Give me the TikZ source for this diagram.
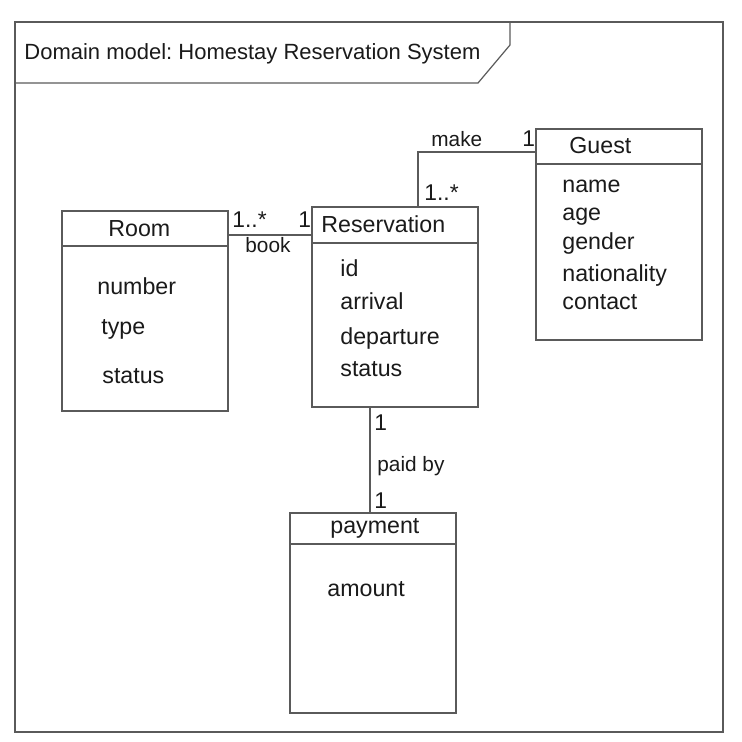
\documentclass[tikz,border=0pt]{standalone}
\usepackage{fontspec}
\setmainfont{Liberation Sans}
\frenchspacing
\definecolor{umlgray}{HTML}{5A5A5A}
\definecolor{umltext}{HTML}{1A1A1A}

\begin{document}
\begin{tikzpicture}[
    x=0.5pt, y=-0.5pt,
    umlline/.style={draw=umlgray, line width=0.6pt},
    classbox/.style={umlline, minimum width=83pt, inner sep=0pt},
    headbox/.style={umlline, minimum width=83pt, inner sep=0pt, anchor=north},
    titlelbl/.style={font=\fontsize{11}{13}\selectfont, text=umltext, anchor=base west, inner sep=0pt},
    attrlbl/.style={font=\fontsize{11.6}{14}\selectfont, text=umltext, anchor=base west, inner sep=0pt},
    multlbl/.style={font=\fontsize{11.4}{14}\selectfont, text=umltext, anchor=base west, inner sep=0pt},
    assoclbl/.style={font=\fontsize{10.4}{12}\selectfont, text=umltext, anchor=base west, inner sep=0pt}
  ]
  \useasboundingbox (0,0) rectangle (742,742);
  % frame with its name tab
  \draw[umlline] (15,22) rectangle (723,732);
  \draw[umlline] (15,83) -- (478,83) -- (510,45) -- (510,22);
  \node[titlelbl] (title) at (24,60) {Domain model: Homestay Reservation System};

  % classes
  \foreach \cls/\cx/\cy/\h/\hh in {%
    room/145/311/100/17.5,
    res/395/307/100/18,
    guest/619/234.5/105.5/17.5,
    pay/373/613/100/15.5%
  }{
    \node[classbox, minimum height=\h pt] (\cls) at (\cx,\cy) {};
    \node[headbox, minimum height=\hh pt] (\cls-head) at (\cls.north) {};
  }
  \foreach \cls/\nm/\x/\y in {%
    room/Room/108/237, res/Reservation/321/233,
    guest/Guest/569/154, pay/payment/330/533%
  }{
    \node[attrlbl] (\cls-name) at (\x,\y) {\nm};
  }

  % attributes
  \foreach \nm/\x/\y in {number/97/295, type/101/335, status/102/383}
    \node[attrlbl] (room-\nm) at (\x,\y) {\nm};
  \foreach \nm/\y in {id/277, arrival/310, departure/344, status/376}
    \node[attrlbl] (res-\nm) at (340,\y) {\nm};
  \foreach \nm/\y in {name/193, age/221, gender/250, nationality/282, contact/310}
    \node[attrlbl] (guest-\nm) at (562,\y) {\nm};
  \node[attrlbl] (pay-amount) at (327,596) {amount};

  % associations
  \coordinate (bookend) at ([yshift=-3.25pt]room-head.east);
  \draw[umlline] (bookend) -- (bookend -| res-head.west);
  \coordinate (makeend) at ([yshift=-2.75pt]guest-head.west);
  \draw[umlline] ([xshift=11.5pt]res-head.north) |- (makeend);
  \coordinate (paidstart) at ([xshift=-12.5pt]res.south);
  \draw[umlline] (paidstart) -- (paidstart |- pay-head.north);

  \foreach \id/\lbl/\x/\y in {%
    book-room/1..*/232/228, book-res/1/298/228,
    make-res/1..*/424/201, make-guest/1/522/147,
    paid-res/1/374/430, paid-pay/1/374/508%
  }{
    \node[multlbl] (\id) at (\x,\y) {\lbl};
  }
  \foreach \id/\lbl/\x/\y in {book/book/245/253, make/make/431/147, paid/paid by/377/471}
    \node[assoclbl] (\id-lbl) at (\x,\y) {\lbl};
\end{tikzpicture}
\end{document}
